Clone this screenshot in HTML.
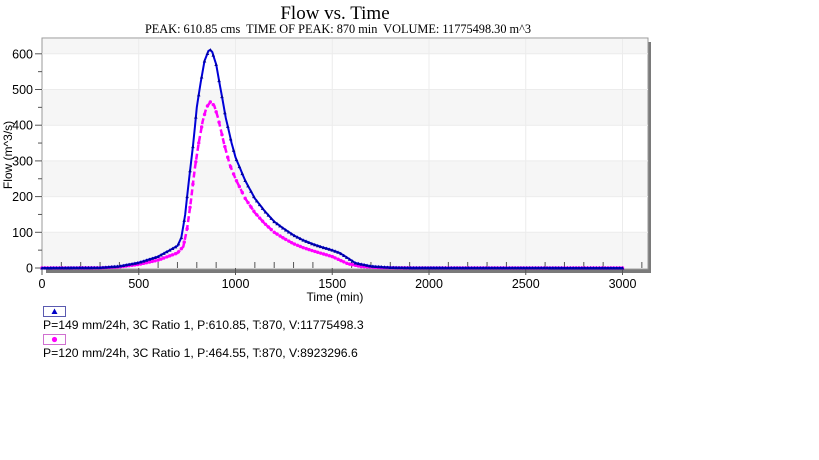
<!DOCTYPE html>
<html><head><meta charset="utf-8"><style>
body{margin:0;background:#fff;width:819px;height:460px;overflow:hidden}
svg{display:block}
</style></head><body>
<svg id="s" width="819" height="460" xmlns="http://www.w3.org/2000/svg" font-family="Liberation Sans, Arial, sans-serif">
<text x="335" y="19" font-family="Liberation Serif, serif" font-size="19" text-anchor="middle">Flow vs. Time</text>
<text x="338" y="33" font-family="Liberation Serif, serif" font-size="12.3" text-anchor="middle" xml:space="preserve">PEAK: 610.85 cms  TIME OF PEAK: 870 min  VOLUME: 11775498.30 m^3</text>
<rect x="46" y="42" width="605" height="231" fill="#7a7a7a"/>
<rect x="42" y="38" width="606" height="231" fill="#fff" stroke="#999" stroke-width="1"/>
<g id="bands"></g>
<g id="grid"></g>
<g id="ticks"></g>
<path id="mag" fill="none" stroke="#ff00ff" stroke-width="2.5" stroke-dasharray="6,3"/>
<g id="magm" fill="#ff00ff"></g>
<path id="blu" fill="none" stroke="#0000d8" stroke-width="2"/>
<g id="blum" fill="#0000a0"></g>
<text transform="translate(12,155) rotate(-90)" font-size="12" text-anchor="middle">Flow (m^3/s)</text>
<text x="335" y="301" font-size="12" text-anchor="middle">Time (min)</text>
<rect x="43.5" y="306.5" width="22" height="10" fill="#fff" stroke="#5a5ab0"/>
<polygon points="51.5,314 54.5,308.5 57.5,314" fill="#0000c8"/>
<text x="43" y="329" font-size="12.2">P=149 mm/24h, 3C Ratio 1, P:610.85, T:870, V:11775498.3</text>
<rect x="43.5" y="334.5" width="22" height="10" fill="#fff" stroke="#d070d0"/>
<circle cx="54.5" cy="339.5" r="2.6" fill="#ff00ff"/>
<text x="43" y="357" font-size="12.2">P=120 mm/24h, 3C Ratio 1, P:464.55, T:870, V:8923296.6</text>
</svg>
<script>
const NS="http://www.w3.org/2000/svg";
const X=t=>42+t*0.1935, Y=v=>268-v*0.357;
function el(p,tag,a){const e=document.createElementNS(NS,tag);for(const k in a)e.setAttribute(k,a[k]);document.getElementById(p).appendChild(e);return e;}
el("bands","rect",{x:42.5,y:39,width:605,height:Y(600)-39,fill:"#f6f6f6"});
[[400,500],[200,300],[0,100]].forEach(b=>el("bands","rect",{x:42.5,y:Y(b[1]),width:605,height:Y(b[0])-Y(b[1]),fill:"#f6f6f6"}));
for(let t=500;t<=3000;t+=500)el("grid","line",{x1:X(t),x2:X(t),y1:39,y2:268,stroke:"#ececec"});
for(let v=100;v<=600;v+=100)el("grid","line",{x1:42,x2:648,y1:Y(v),y2:Y(v),stroke:"#ececec"});
for(let v=0;v<=600;v+=50){const big=v%100==0;el("ticks","line",{x1:42,x2:big?35:38,y1:Y(v),y2:Y(v),stroke:"#555"});
 if(big){const t=el("ticks","text",{x:33,y:Y(v)+4.5,"font-size":12.5,"text-anchor":"end"});t.textContent=v;}}
for(let t=0;t<=3100;t+=100){const big=t%500==0;el("ticks","line",{x1:X(t),x2:X(t),y1:268,y2:big?275:262,stroke:"#555"});
 if(big){const tx=el("ticks","text",{x:X(t),y:288,"font-size":12.5,"text-anchor":"middle"});tx.textContent=t;}}
const bp=[[0,0],[300,1],[400,5],[500,15],[600,32],[700,62],[720,85],[740,150],[760,250],[780,340],[800,450],[820,520],[840,580],[860,608],[870,611],[880,605],[900,570],[920,510],[950,420],[980,350],[1000,310],[1050,245],[1100,195],[1150,160],[1200,130],[1250,110],[1300,92],[1350,78],[1400,67],[1450,58],[1500,50],[1540,42],[1580,28],[1620,14],[1700,5],[1800,1.5],[1900,0.5],[3000,0]];
const mp=[[0,0],[300,0.5],[400,3],[500,10],[600,22],[700,42],[730,60],[750,110],[770,190],[790,280],[810,350],[830,410],[850,450],[870,465],[890,455],[910,420],[940,350],[970,290],[1000,250],[1050,195],[1100,155],[1150,125],[1200,100],[1250,83],[1300,68],[1350,57],[1400,48],[1450,40],[1500,32],[1540,22],[1580,12],[1650,4],[1750,1],[1900,0.3],[3000,0]];
function interp(p,t){for(let i=1;i<p.length;i++)if(t<=p[i][0]){const a=p[i-1],b=p[i];return a[1]+(b[1]-a[1])*(t-a[0])/(b[0]-a[0]);}return 0;}
function draw(p,id,mid,tri){let d="";for(let t=0;t<=3000;t+=10){d+=(t?"L":"M")+X(t).toFixed(1)+","+Y(interp(p,t)).toFixed(1);}
 document.getElementById(id).setAttribute("d",d);
 for(let t=0;t<=3000;t+=15){const x=X(t),y=Y(interp(p,t));
  if(tri)el(mid,"polygon",{points:`${x-1.8},${y+1.5} ${x},${y-1.8} ${x+1.8},${y+1.5}`});
  else el(mid,"circle",{cx:x,cy:y,r:1.7});}}
draw(mp,"mag","magm",false);draw(bp,"blu","blum",true);
</script>
</body></html>
